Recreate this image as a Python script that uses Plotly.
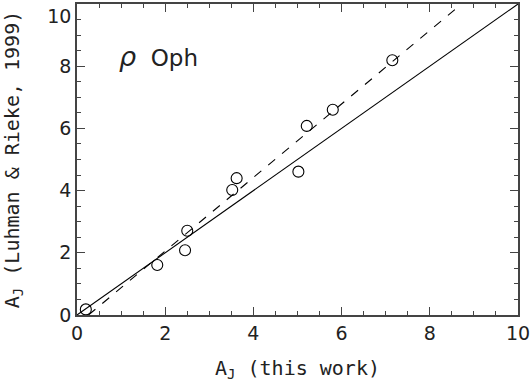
import plotly.graph_objects as go

# data
aj_this_work = [0.20, 1.82, 2.45, 2.50, 3.52, 3.62, 5.02, 5.21, 5.80, 7.15]
aj_luhman = [0.18, 1.61, 2.08, 2.71, 4.02, 4.40, 4.61, 6.08, 6.60, 8.19]
identity_x = [0, 10]
identity_y = [0, 10]
fit_x = [0.26, 8.72]
fit_y = [0.0, 10.0]
tick_vals = [0, 2, 4, 6, 8, 10]
y_tick_text = ["0", "2", "4", "6", "8", "\u00a0<br>10"]
x_tick_text = ["0", "2", "4", "6", "8", "10"]

font_family = "DejaVu Sans, Liberation Sans, sans-serif"
title_family = "DejaVu Sans Mono, monospace"
axis_color = "#444444"
text_color = "#222222"

fig = go.Figure()
fig.add_trace(go.Scatter(x=identity_x, y=identity_y, mode="lines",
                         line=dict(color="black", width=1.1), showlegend=False))
fig.add_trace(go.Scatter(x=fit_x, y=fit_y, mode="lines",
                         line=dict(color="black", width=1.1, dash="dash"), showlegend=False))
fig.add_trace(go.Scatter(x=aj_this_work, y=aj_luhman, mode="markers",
                         marker=dict(symbol="circle-open", size=11, color="black",
                                     line=dict(width=1.1, color="black")),
                         showlegend=False))

fig.add_annotation(x=0.9, y=8.3, xref="x", yref="y", showarrow=False,
                   xanchor="left", yanchor="middle",
                   text="<span style='font-size:27px'><i>ρ</i></span>\u00a0 Oph",
                   font=dict(family=font_family, size=23, color=text_color))

axis_common = dict(
    range=[0, 10], tickvals=tick_vals, ticks="inside", ticklen=8, tickwidth=1,
    tickcolor=axis_color, showline=True, linecolor=axis_color, linewidth=1.5,
    mirror="ticks", showgrid=False, zeroline=False, ticklabeloverflow="allow",
    automargin=False,
    minor=dict(dtick=0.5, ticks="inside", ticklen=4, tickcolor=axis_color, tickwidth=1),
    tickfont=dict(family=font_family, size=19, color=text_color),
)

fig.update_xaxes(**axis_common, ticktext=x_tick_text,
                 title=dict(text="A<sub>J</sub> (this work)", standoff=18,
                            font=dict(family=title_family, size=20, color=text_color)))
fig.update_yaxes(**axis_common, ticktext=y_tick_text,
                 title=dict(text="A<sub>J</sub> (Luhman & Rieke, 1999)", standoff=22,
                            font=dict(family=title_family, size=20, color=text_color)))

fig.update_layout(width=531, height=385,
                  margin=dict(l=77, r=13, t=4, b=70, autoexpand=False),
                  plot_bgcolor="white", paper_bgcolor="white")

fig.write_html("out.html", config={"displayModeBar": False},
               post_script="document.body.style.margin='0';document.body.style.padding='0';")
